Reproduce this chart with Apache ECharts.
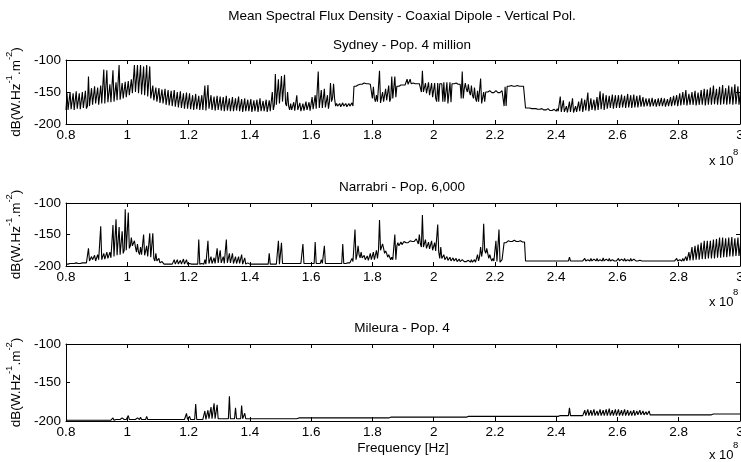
<!DOCTYPE html>
<html><head><meta charset="utf-8">
<script src="https://cdn.jsdelivr.net/npm/echarts@6/dist/echarts.min.js"></script>
<style>html,body{margin:0;padding:0;background:#fff}#c{width:741px;height:462px}</style>
</head><body><div id="c"></div>
<script>
// ---- data (frequency in units of 1e8 Hz, bins of 0.01 from 0.80 to 3.00) ----
const freqStart = 0.8;
const freqStep = 0.01;
const xTickLabels = ['0.8','1','1.2','1.4','1.6','1.8','2','2.2','2.4','2.6','2.8','3'];
const yTickLabels = ['-200','-150','-100'];
const mainTitle = 'Mean Spectral Flux Density - Coaxial Dipole - Vertical Pol.';
const panelTitles = ['Sydney - Pop. 4 million', 'Narrabri - Pop. 6,000', 'Mileura - Pop. 4'];

// per-bin minimum / maximum level (dB)
const sydneyLow = [
-178,-177,-178,-176,-177,-175,-176,-172,-170,-168,
-170,-168,-168,-166,-166,-165,-163,-162,-160,-158,
-155,-152,-150,-152,-154,-155,-157,-160,-163,-165,
-167,-168,-170,-171,-172,-173,-174,-175,-176,-176,
-177,-178,-177,-178,-178,-179,-176,-178,-179,-178,
-179,-180,-179,-180,-180,-179,-180,-181,-180,-180,
-181,-180,-181,-180,-180,-181,-180,-178,-170,-168,
-165,-168,-172,-178,-179,-178,-180,-179,-178,-179,
-177,-176,-175,-175,-174,-176,-165,-160,-172,-173,
-172,-173,-172,-172,-141,-140,-138,-137,-137,-139,
-160,-165,-167,-165,-163,-165,-160,-158,-141,-140,
-139,-138,-137,-137,-137,-138,-150,-152,-155,-158,
-160,-165,-137,-165,-168,-166,-137,-137,-138,-160,
-145,-150,-155,-160,-165,-168,-165,-150,-150,-151,
-150,-151,-150,-172,-141,-142,-141,-142,-141,-143,
-175,-176,-176,-177,-177,-177,-178,-178,-179,-179,
-180,-181,-181,-182,-181,-182,-181,-180,-181,-179,
-180,-178,-179,-178,-177,-178,-176,-175,-176,-175,
-175,-174,-175,-174,-175,-174,-174,-173,-173,-172,
-173,-172,-173,-172,-172,-173,-172,-172,-171,-172,
-171,-170,-171,-170,-170,-171,-170,-170,-171,-170,
-170,-169,-170,-170,-169,-170,-169,-170,-169,-170,
-170
];
const sydneyHigh = [
-152,-150,-152,-149,-152,-150,-148,-126,-144,-141,
-143,-140,-115,-116,-138,-116,-135,-108,-136,-134,
-133,-130,-108,-108,-108,-110,-108,-110,-140,-143,
-144,-146,-145,-147,-148,-147,-150,-149,-152,-151,
-152,-155,-153,-156,-155,-140,-139,-155,-157,-156,
-157,-158,-156,-160,-158,-160,-157,-161,-160,-162,
-161,-163,-162,-160,-164,-162,-163,-150,-122,-130,
-125,-123,-150,-168,-166,-155,-167,-168,-165,-166,
-158,-155,-118,-147,-145,-155,-136,-137,-168,-168,
-167,-168,-168,-167,-140,-139,-137,-136,-136,-138,
-142,-155,-117,-150,-145,-140,-126,-126,-140,-139,
-138,-130,-130,-136,-136,-137,-117,-136,-135,-136,
-136,-136,-135,-135,-135,-135,-136,-136,-137,-118,
-136,-138,-140,-143,-148,-129,-150,-148,-148,-149,
-148,-149,-148,-142,-139,-140,-139,-140,-139,-141,
-174,-175,-175,-176,-175,-176,-177,-176,-178,-177,
-176,-157,-163,-172,-165,-160,-172,-165,-160,-162,
-151,-160,-162,-158,-149,-152,-155,-156,-154,-155,
-155,-154,-156,-153,-155,-154,-156,-155,-158,-160,
-160,-159,-161,-160,-159,-160,-161,-158,-156,-155,
-152,-150,-147,-153,-150,-148,-151,-147,-145,-146,
-143,-140,-145,-142,-139,-144,-140,-142,-138,-141,
-142
];

const narrabriLow = [
-197,-197,-196,-196,-196,-195,-195,-192,-190,-192,
-190,-190,-189,-188,-187,-185,-183,-182,-180,-175,
-172,-168,-170,-178,-182,-183,-185,-186,-188,-192,
-195,-196,-197,-197,-197,-197,-197,-197,-197,-197,
-197,-197,-197,-197,-197,-197,-196,-196,-196,-195,
-195,-196,-195,-195,-196,-196,-196,-197,-197,-197,
-197,-197,-197,-197,-197,-197,-197,-197,-197,-197,
-196,-196,-196,-196,-196,-196,-196,-196,-196,-196,
-196,-196,-196,-196,-196,-196,-196,-196,-196,-196,
-196,-196,-195,-193,-190,-182,-187,-190,-191,-190,
-190,-188,-175,-172,-180,-186,-190,-190,-168,-166,
-164,-163,-162,-161,-160,-165,-170,-172,-173,-175,
-176,-178,-188,-190,-191,-192,-192,-193,-193,-193,
-193,-194,-194,-194,-192,-185,-175,-180,-188,-192,
-193,-194,-193,-163,-161,-161,-160,-161,-161,-162,
-192,-192,-192,-192,-192,-192,-192,-192,-192,-192,
-192,-192,-192,-192,-192,-192,-192,-192,-192,-192,
-192,-192,-192,-192,-192,-192,-192,-192,-192,-192,
-192,-192,-192,-192,-192,-192,-192,-192,-192,-192,
-192,-192,-192,-192,-192,-192,-192,-192,-192,-192,
-192,-192,-192,-191,-191,-190,-190,-189,-189,-188,
-188,-188,-187,-187,-186,-186,-185,-185,-184,-184,
-184
];
const narrabriHigh = [
-197,-196,-196,-195,-195,-195,-194,-172,-185,-183,
-182,-137,-180,-178,-178,-135,-126,-138,-145,-110,
-115,-155,-160,-165,-170,-150,-168,-148,-148,-180,
-188,-193,-196,-197,-197,-190,-190,-191,-189,-190,
-196,-197,-197,-158,-196,-190,-160,-185,-187,-172,
-175,-185,-158,-180,-180,-185,-185,-182,-187,-195,
-197,-197,-197,-197,-197,-197,-180,-197,-197,-160,
-163,-196,-196,-196,-196,-196,-196,-165,-196,-196,
-196,-162,-196,-190,-168,-196,-196,-196,-196,-196,
-165,-196,-192,-188,-142,-168,-178,-183,-184,-180,
-178,-175,-127,-165,-176,-182,-186,-150,-163,-162,
-161,-160,-160,-159,-157,-150,-119,-158,-162,-160,
-163,-134,-170,-182,-185,-186,-187,-188,-189,-190,
-190,-191,-190,-190,-182,-170,-133,-172,-182,-188,
-160,-142,-190,-161,-160,-160,-159,-160,-160,-161,
-192,-192,-192,-192,-192,-192,-192,-192,-192,-192,
-192,-192,-192,-192,-186,-192,-192,-192,-189,-188,
-190,-188,-189,-188,-190,-187,-189,-188,-190,-189,
-188,-189,-188,-190,-188,-189,-190,-191,-190,-192,
-192,-192,-192,-192,-192,-192,-192,-192,-192,-188,
-190,-188,-185,-178,-170,-168,-166,-163,-160,-160,
-160,-158,-157,-155,-155,-156,-155,-154,-156,-155,
-157
];

const mileuraLow = [
-199,-199,-199,-199,-199,-199,-199,-199,-199,-199,
-199,-199,-199,-199,-199,-199,-198,-198,-198,-198,
-198,-198,-198,-198,-198,-198,-198,-198,-198,-198,
-198,-198,-198,-198,-198,-198,-198,-198,-198,-198,
-198,-198,-198,-198,-198,-198,-197,-197,-197,-197,
-197,-197,-197,-197,-197,-197,-197,-197,-197,-197,
-197,-197,-197,-197,-197,-197,-197,-197,-197,-197,
-197,-197,-197,-197,-197,-197,-196,-196,-196,-196,
-196,-196,-196,-196,-196,-196,-196,-196,-196,-196,
-196,-196,-196,-196,-196,-196,-196,-196,-196,-196,
-196,-196,-196,-196,-196,-196,-195,-195,-195,-195,
-195,-195,-195,-195,-195,-195,-195,-195,-195,-195,
-195,-195,-195,-195,-195,-195,-195,-195,-195,-195,
-195,-194,-194,-194,-194,-194,-194,-194,-194,-194,
-194,-194,-194,-194,-194,-194,-194,-194,-194,-194,
-194,-194,-194,-194,-194,-194,-194,-194,-194,-194,
-194,-193,-193,-193,-193,-193,-193,-193,-193,-193,
-193,-193,-193,-193,-193,-193,-193,-193,-193,-193,
-193,-193,-193,-193,-193,-193,-192,-192,-192,-192,
-192,-192,-192,-192,-192,-192,-192,-192,-192,-192,
-192,-192,-192,-192,-192,-192,-192,-192,-192,-192,
-192,-191,-191,-191,-191,-191,-191,-191,-191,-191,
-191
];
const mileuraHigh = [
-199,-199,-199,-199,-199,-199,-199,-199,-199,-199,
-199,-199,-199,-199,-199,-196,-198,-198,-196,-198,
-193,-198,-196,-196,-195,-198,-194,-198,-196,-198,
-198,-198,-198,-198,-198,-198,-198,-198,-198,-190,
-194,-198,-178,-198,-198,-187,-186,-182,-177,-179,
-197,-197,-197,-168,-197,-183,-197,-180,-190,-197,
-195,-197,-197,-197,-197,-197,-197,-197,-197,-197,
-196,-197,-197,-197,-197,-197,-196,-196,-196,-196,
-196,-196,-196,-196,-196,-196,-196,-196,-196,-196,
-196,-196,-196,-196,-196,-196,-196,-196,-196,-196,
-196,-196,-196,-196,-196,-196,-195,-195,-195,-195,
-195,-195,-195,-195,-195,-195,-195,-195,-195,-195,
-195,-195,-195,-195,-195,-195,-195,-195,-195,-195,
-195,-194,-194,-194,-194,-194,-194,-194,-194,-194,
-194,-194,-194,-194,-194,-194,-194,-194,-194,-194,
-194,-194,-194,-194,-194,-194,-194,-194,-194,-194,
-194,-193,-193,-193,-183,-193,-193,-193,-193,-186,
-185,-186,-185,-187,-185,-186,-185,-184,-186,-185,
-185,-186,-185,-186,-187,-186,-187,-186,-187,-188,
-187,-192,-192,-192,-192,-192,-192,-192,-192,-192,
-192,-192,-192,-192,-192,-192,-192,-192,-192,-192,
-192,-191,-191,-191,-191,-191,-191,-191,-191,-191,
-191
];

// ---- chart ----
const FONT = 'Liberation Sans';
const gridBoxes = [{top:60,height:64},{top:203,height:63},{top:344,height:77}];

function buildLine(low, high) {
  const pts = [];
  for (let i = 0; i < low.length; i++) {
    const x = freqStart + i * freqStep;
    pts.push([x, low[i]], [x + freqStep / 3, high[i]], [x + 2 * freqStep / 3, low[i]]);
  }
  return pts;
}

const seriesData = [
  buildLine(sydneyLow, sydneyHigh),
  buildLine(narrabriLow, narrabriHigh),
  buildLine(mileuraLow, mileuraHigh)
];

const axisColor = '#000';
const xAxes = [], yAxes = [], series = [], graphics = [];
const CX = 402;
const titleY = [45.5, 187, 328];
const expY = [161.5, 302, 455];

graphics.push({type: 'text', x: CX, y: 16.5,
  style: {text: mainTitle, align: 'center', verticalAlign: 'middle',
    font: '13.5px "Liberation Sans"', fill: '#000'}});

gridBoxes.forEach((g, k) => {
  graphics.push({type: 'text', x: CX, y: titleY[k],
    style: {text: panelTitles[k], align: 'center', verticalAlign: 'middle',
      font: '13.5px "Liberation Sans"', fill: '#000'}});
  xAxes.push({
    type: 'value', gridIndex: k, min: 0.8, max: 3.0, interval: 0.2, position: 'bottom',
    axisLine: {show: true, lineStyle: {color: axisColor, width: 1}},
    axisTick: {show: true, inside: true, length: 4, lineStyle: {color: axisColor}},
    axisLabel: {show: true, fontFamily: FONT, fontSize: 13.5, color: '#000', margin: 4,
      formatter: v => xTickLabels[Math.round((v - 0.8) / 0.2)]},
    splitLine: {show: false},
    name: k === 2 ? 'Frequency [Hz]' : '', nameLocation: 'middle', nameGap: 20,
    nameTextStyle: {fontFamily: FONT, fontSize: 13.5, color: '#000'}
  });
  xAxes.push({
    type: 'value', gridIndex: k, min: 0.8, max: 3.0, interval: 0.2, position: 'top',
    axisLine: {show: true, lineStyle: {color: axisColor, width: 1}},
    axisTick: {show: true, inside: true, length: 4, lineStyle: {color: axisColor}},
    axisLabel: {show: false}, splitLine: {show: false}
  });
  yAxes.push({
    type: 'value', gridIndex: k, min: -200, max: -100, interval: 50, position: 'left',
    axisLine: {show: true, lineStyle: {color: axisColor, width: 1}},
    axisTick: {show: true, inside: true, length: 4, lineStyle: {color: axisColor}},
    axisLabel: {show: true, fontFamily: FONT, fontSize: 13.5, color: '#000', margin: 5,
      formatter: v => yTickLabels[Math.round((v + 200) / 50)]},
    splitLine: {show: false},
    name: '{b|dB(W.Hz}{s|-1}{b|.m}{s|-2}{b|)}', nameLocation: 'middle', nameGap: 35,
    nameTextStyle: {fontFamily: FONT, fontSize: 13.5, color: '#000',
      rich: {b: {fontFamily: FONT, fontSize: 13.5, color: '#000', lineHeight: 19, verticalAlign: 'bottom'},
             s: {fontFamily: FONT, fontSize: 9.5, color: '#000', lineHeight: 19, verticalAlign: 'top'}}}
  });
  yAxes.push({
    type: 'value', gridIndex: k, min: -200, max: -100, interval: 50, position: 'right',
    axisLine: {show: true, lineStyle: {color: axisColor, width: 1}},
    axisTick: {show: true, inside: true, length: 4, lineStyle: {color: axisColor}},
    axisLabel: {show: false}, splitLine: {show: false}
  });
  series.push({
    type: 'line', xAxisIndex: 2 * k, yAxisIndex: 2 * k, data: seriesData[k],
    showSymbol: false, symbol: 'none', sampling: null, animation: false,
    lineStyle: {color: '#000', width: 1.1}
  });
  graphics.push({type: 'text', x: 709, y: expY[k],
    style: {text: 'x 10', align: 'left', verticalAlign: 'middle',
      font: '13px "Liberation Sans"', fill: '#000'}});
  graphics.push({type: 'text', x: 733, y: expY[k] - 9.5,
    style: {text: '8', align: 'left', verticalAlign: 'middle',
      font: '9.5px "Liberation Sans"', fill: '#000'}});
});

const chart = echarts.init(document.getElementById('c'), null, {renderer: 'canvas'});
chart.setOption({
  animation: false,
  backgroundColor: '#fff',
  grid: gridBoxes.map(g => ({left: 66, right: 1, top: g.top, height: g.height,
    containLabel: false, outerBoundsMode: 'none'})),
  xAxis: xAxes,
  yAxis: yAxes,
  series: series,
  graphic: graphics
});
</script>
</body></html>
